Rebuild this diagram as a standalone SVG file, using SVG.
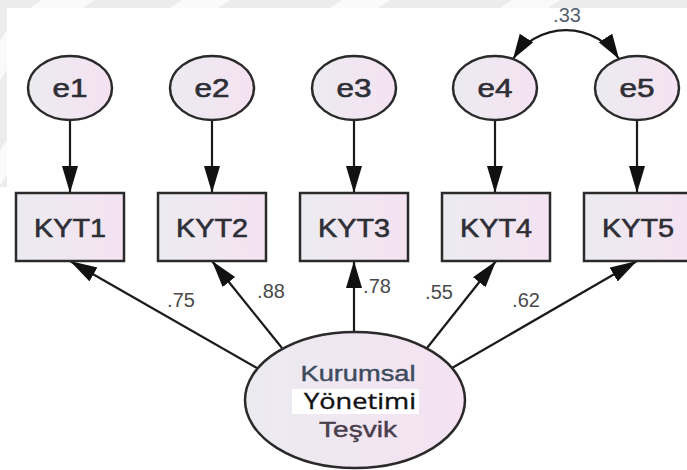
<svg xmlns="http://www.w3.org/2000/svg" width="687" height="470" viewBox="0 0 687 470">
<defs>
<linearGradient id="fillg" x1="0" y1="0" x2="1" y2="0">
<stop offset="0" stop-color="#ebebf0"/>
<stop offset="1" stop-color="#f5e2f2"/>
</linearGradient>
<marker id="ah" markerUnits="userSpaceOnUse" markerWidth="28" markerHeight="18" refX="27" refY="8" orient="auto">
<path d="M0,0 L27,8 L0,16 z" fill="#111"/>
</marker>
<marker id="ahs" markerUnits="userSpaceOnUse" markerWidth="26" markerHeight="18" refX="25" refY="8" orient="auto-start-reverse">
<path d="M0,0 L25,8 L0,16 z" fill="#111"/>
</marker>
</defs>
<style>
.node{fill:url(#fillg);stroke:#2a2a2a;stroke-width:2.5}
.lbl{font-family:"Liberation Sans",Arial,sans-serif;fill:#2e2e36;stroke:#2e2e36;stroke-width:0.6;text-anchor:middle}
.conn{stroke:#1a1a1a;stroke-width:2.2;fill:none}
.num{font-family:"Liberation Sans",Arial,sans-serif;font-size:20px;fill:#4a4a4a;text-anchor:middle}
</style>
<rect width="687" height="470" fill="#fff"/>
<g id="background">
<rect x="0" y="0" width="687" height="8" fill="#ececec"/>
<rect x="0" y="0" width="7" height="187" fill="#ececec"/>
<path d="M30,8 L42,0 L95,0 L83,8 z M170,8 L182,0 L230,0 L218,8 z M330,8 L342,0 L390,0 L378,8 z M500,8 L512,0 L560,0 L548,8 z M0,40 L7,30 L7,70 L0,80 z M0,150 L7,140 L7,175 L0,185 z" fill="#fafafa"/>
</g>
<g id="connectors">
<path class="conn" d="M70,120 L70,193" marker-end="url(#ah)"/>
<path class="conn" d="M212,120 L212,193" marker-end="url(#ah)"/>
<path class="conn" d="M354,120 L354,193" marker-end="url(#ah)"/>
<path class="conn" d="M495,120 L495,193" marker-end="url(#ah)"/>
<path class="conn" d="M637,120 L637,193" marker-end="url(#ah)"/>
<path class="conn" d="M257,368 L70,261" marker-end="url(#ah)"/>
<path class="conn" d="M282,348 L212,261" marker-end="url(#ah)"/>
<path class="conn" d="M354,332 L354,261" marker-end="url(#ah)"/>
<path class="conn" d="M427,348 L496,261" marker-end="url(#ah)"/>
<path class="conn" d="M452,368 L637,261" marker-end="url(#ah)"/>
<path class="conn" d="M513,59 A63,63 0 0 1 619,59" marker-start="url(#ahs)" marker-end="url(#ahs)"/>
<text class="num" x="567" y="22" style="fill:#55606e">.33</text>
<text class="num" x="181" y="307">.75</text>
<text class="num" x="271" y="298">.88</text>
<text class="num" x="377" y="293">.78</text>
<text class="num" x="439" y="299">.55</text>
<text class="num" x="526" y="307">.62</text>
</g>
<g id="e1"><ellipse class="node" cx="70" cy="88" rx="42" ry="32"/><text class="lbl" x="70" y="97" font-size="25" textLength="35" lengthAdjust="spacingAndGlyphs">e1</text></g>
<g id="e2"><ellipse class="node" cx="212" cy="88" rx="42" ry="32"/><text class="lbl" x="212" y="97" font-size="25" textLength="35" lengthAdjust="spacingAndGlyphs">e2</text></g>
<g id="e3"><ellipse class="node" cx="354" cy="88" rx="42" ry="32"/><text class="lbl" x="354" y="97" font-size="25" textLength="35" lengthAdjust="spacingAndGlyphs">e3</text></g>
<g id="e4"><ellipse class="node" cx="495" cy="88" rx="42" ry="32"/><text class="lbl" x="495" y="97" font-size="25" textLength="35" lengthAdjust="spacingAndGlyphs">e4</text></g>
<g id="e5"><ellipse class="node" cx="637" cy="88" rx="42" ry="32"/><text class="lbl" x="637" y="97" font-size="25" textLength="35" lengthAdjust="spacingAndGlyphs">e5</text></g>
<g id="KYT1"><rect class="node" x="16" y="193" width="108" height="68"/><text class="lbl" x="70" y="237" font-size="26" textLength="72" lengthAdjust="spacingAndGlyphs">KYT1</text></g>
<g id="KYT2"><rect class="node" x="158" y="193" width="108" height="68"/><text class="lbl" x="212" y="237" font-size="26" textLength="72" lengthAdjust="spacingAndGlyphs">KYT2</text></g>
<g id="KYT3"><rect class="node" x="300" y="193" width="108" height="68"/><text class="lbl" x="354" y="237" font-size="26" textLength="72" lengthAdjust="spacingAndGlyphs">KYT3</text></g>
<g id="KYT4"><rect class="node" x="442" y="193" width="108" height="68"/><text class="lbl" x="496" y="237" font-size="26" textLength="72" lengthAdjust="spacingAndGlyphs">KYT4</text></g>
<g id="KYT5"><rect class="node" x="584" y="193" width="108" height="68"/><text class="lbl" x="638" y="237" font-size="26" textLength="72" lengthAdjust="spacingAndGlyphs">KYT5</text></g>
<g id="KYT">
<ellipse class="node" cx="355" cy="400" rx="110" ry="68"/>
<text class="lbl" x="358" y="381" font-size="22" style="fill:#3d4b5c;stroke:#3d4b5c;stroke-width:0.4" textLength="115" lengthAdjust="spacingAndGlyphs">Kurumsal</text>
<rect x="292" y="389" width="127" height="25" fill="#fff"/>
<text x="360" y="409" font-family="'Open Sans','Noto Sans',sans-serif" font-size="22" fill="#111" stroke="#111" stroke-width="0.4" text-anchor="middle" textLength="112" lengthAdjust="spacingAndGlyphs">Yönetimi</text>
<text class="lbl" x="358" y="437" font-size="22" style="fill:#4a3d4c;stroke:#4a3d4c;stroke-width:0.4" textLength="78" lengthAdjust="spacingAndGlyphs">Teşvik</text>
</g>
</svg>
